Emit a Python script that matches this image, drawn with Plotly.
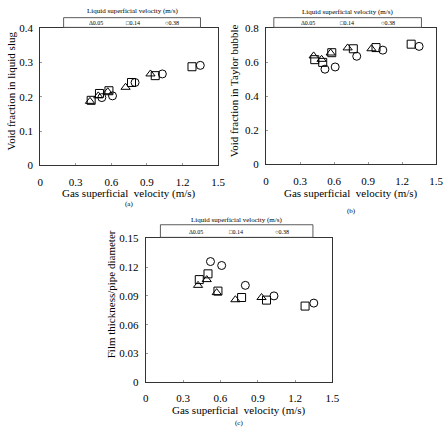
import plotly.graph_objects as go

# Gas superficial velocity (m/s) for each liquid superficial velocity series
x_005 = [0.42, 0.49, 0.57, 0.72, 0.93]
x_014 = [0.43, 0.50, 0.58, 0.77, 0.97, 1.28]
x_038 = [0.52, 0.61, 0.80, 1.03, 1.35]

# (a) Void fraction in liquid slug
slug_005 = [0.187, 0.203, 0.215, 0.228, 0.267]
slug_014 = [0.190, 0.210, 0.218, 0.242, 0.262, 0.288]
slug_038 = [0.198, 0.203, 0.242, 0.267, 0.292]

# (b) Void fraction in Taylor bubble
tb_005 = [0.638, 0.618, 0.655, 0.685, 0.680]
tb_014 = [0.616, 0.600, 0.657, 0.680, 0.687, 0.707]
tb_038 = [0.560, 0.573, 0.636, 0.672, 0.694]

# (c) Film thickness / pipe diameter
film_005 = [0.101, 0.107, 0.0934, 0.086, 0.0883]
film_014 = [0.107, 0.113, 0.095, 0.0883, 0.0856, 0.0794]
film_038 = [0.1258, 0.1217, 0.101, 0.090, 0.0825]

series_names = ["0.05", "0.14", "0.38"]
symbols = ["triangle-up-open", "square-open", "circle-open"]
legend_glyphs = ["\u0394", "\u25a1", "\u25cb"]

W, H = 448, 431
SERIF = '"Liberation Serif", "Times New Roman", Times, "DejaVu Serif", serif'

def px_x(p):
    return p / W

def px_y(p):
    return 1 - p / H

panels = [
    dict(xa="x", ya="y", xd=(38, 220), yd=(23, 164), yr=[0, 0.4], dt=0.1,
         data=[(x_005, slug_005), (x_014, slug_014), (x_038, slug_038)],
         ytitle="Void fraction in liquid slug", ytx=8, yty=87,
         xtx=129, xty=193, cap="(a)", capx=129, capy=204,
         box=(62, 202, 12, 22), ltitle_y=5, ent=[95, 133, 173], ent_y=17),
    dict(xa="x2", ya="y2", xd=(269, 443), yd=(23, 163), yr=[0, 0.8], dt=0.2,
         data=[(x_005, tb_005), (x_014, tb_014), (x_038, tb_038)],
         ytitle="Void fraction in Taylor bubble", ytx=236, yty=87,
         xtx=356, xty=193, cap="(b)", capx=356, capy=211,
         box=(277, 428, 12, 22), ltitle_y=6, ent=[312, 352, 394], ent_y=17),
    dict(xa="x3", ya="y3", xd=(146, 337), yd=(239, 387), yr=[0, 0.15], dt=0.03,
         data=[(x_005, film_005), (x_014, film_014), (x_038, film_038)],
         ytitle="Film thickness/pipe diameter", ytx=110, yty=297,
         xtx=241, xty=416, cap="(c)", capx=241, capy=429,
         box=(161, 317, 225, 238), ltitle_y=220, ent=[197, 238, 285], ent_y=232),
]

fig = go.Figure()
layout = dict(
    width=W, height=H, margin=dict(l=0, r=0, t=0, b=0),
    paper_bgcolor="white", plot_bgcolor="white", showlegend=False,
    font=dict(family=SERIF, color="black"),
)
annotations = []
shapes = []

for i, p in enumerate(panels):
    suffix = "" if i == 0 else str(i + 1)
    for (xs, ys), name, sym in zip(p["data"], series_names, symbols):
        fig.add_trace(go.Scatter(
            x=xs, y=ys, mode="markers", name=name,
            xaxis=p["xa"], yaxis=p["ya"],
            marker=dict(symbol=sym, size=8, color="black", line=dict(width=1, color="black")),
        ))
    layout["xaxis" + suffix] = dict(
        domain=[px_x(p["xd"][0]), px_x(p["xd"][1])], anchor=p["ya"],
        range=[0, 1.5], dtick=0.3, tick0=0, showgrid=False, zeroline=False,
        showline=True, linecolor="#333333", linewidth=1, mirror=True,
        ticks="inside", ticklen=2, tickcolor="#999999", ticklabelstandoff=6,
        tickfont=dict(family=SERIF, size=11, color="black"),
    )
    layout["yaxis" + suffix] = dict(
        domain=[px_y(p["yd"][1]), px_y(p["yd"][0])], anchor=p["xa"],
        range=p["yr"], dtick=p["dt"], tick0=0, showgrid=False, zeroline=False,
        showline=True, linecolor="#333333", linewidth=1, mirror=True,
        ticks="inside", ticklen=2, tickcolor="#999999", ticklabelstandoff=4,
        tickfont=dict(family=SERIF, size=11, color="black"),
    )
    annotations.append(dict(
        text="Gas superficial  velocity (m/s)", xref="paper", yref="paper",
        x=px_x(p["xtx"]), y=px_y(p["xty"]), showarrow=False,
        font=dict(family=SERIF, size=11, color="black"),
        xanchor="center", yanchor="middle"))
    annotations.append(dict(
        text=p["ytitle"], xref="paper", yref="paper",
        x=px_x(p["ytx"]), y=px_y(p["yty"]), showarrow=False, textangle=-90,
        font=dict(family=SERIF, size=11, color="black"),
        xanchor="center", yanchor="middle"))
    annotations.append(dict(
        text=p["cap"], xref="paper", yref="paper",
        x=px_x(p["capx"]), y=px_y(p["capy"]), showarrow=False,
        font=dict(family=SERIF, size=7, color="black"),
        xanchor="center", yanchor="middle"))
    x0, x1, y0, y1 = p["box"]
    shapes.append(dict(type="rect", xref="paper", yref="paper",
                       x0=px_x(x0), x1=px_x(x1), y0=px_y(y1), y1=px_y(y0),
                       line=dict(color="#333333", width=0.8), fillcolor="white"))
    annotations.append(dict(
        text="Liquid superficial velocity (m/s)", xref="paper", yref="paper",
        x=px_x((x0 + x1) / 2), y=px_y(p["ltitle_y"]), showarrow=False,
        font=dict(family=SERIF, size=7, color="black"),
        xanchor="center", yanchor="middle"))
    for ex, g, name in zip(p["ent"], legend_glyphs, series_names):
        annotations.append(dict(
            text=g + name, xref="paper", yref="paper",
            x=px_x(ex), y=px_y(p["ent_y"]), showarrow=False,
            font=dict(family=SERIF, size=6, color="black"),
            xanchor="center", yanchor="middle"))

layout["annotations"] = annotations
layout["shapes"] = shapes
fig.update_layout(**layout)
fig.write_html("out.html")
